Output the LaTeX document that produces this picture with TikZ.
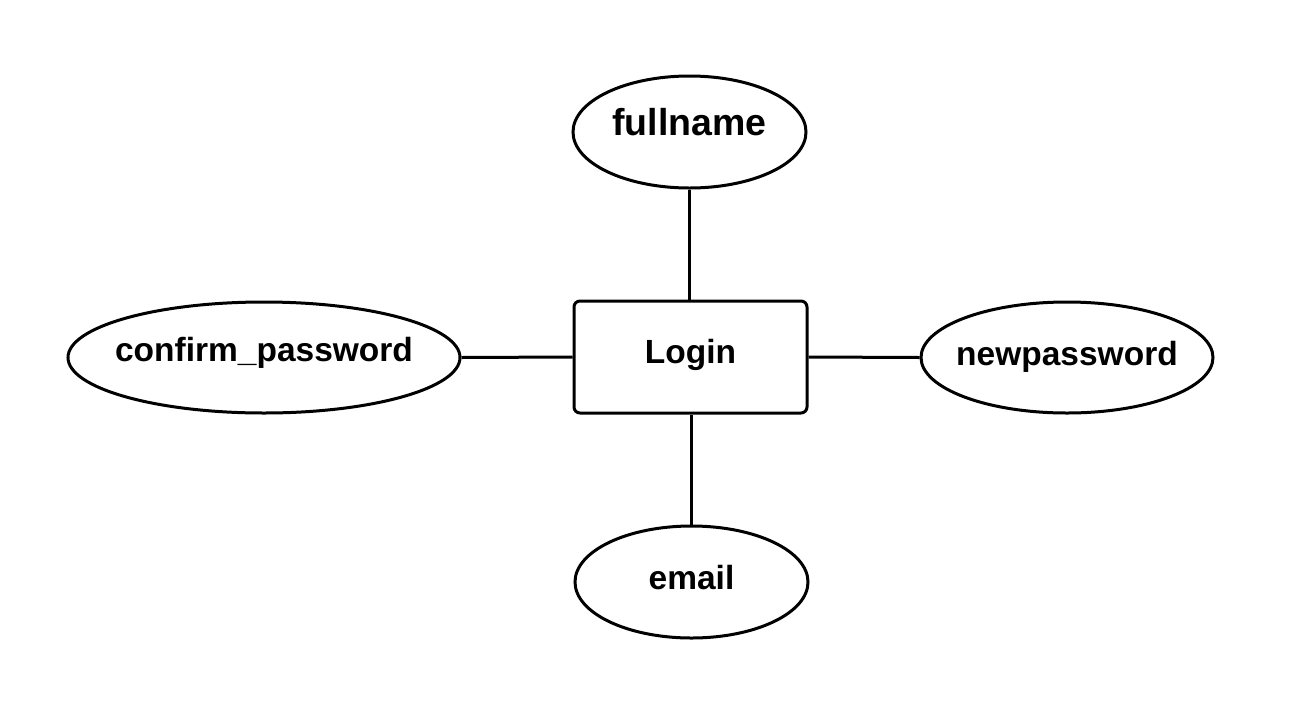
\documentclass[tikz,border=0pt]{standalone}
\usepackage{fontspec}
\setmainfont{Liberation Sans}
\usetikzlibrary{shapes.geometric}
\newcommand{\lbl}[2]{\smash{\makebox[0pt]{\raisebox{#1}{#2}}}}
\begin{document}
\begin{tikzpicture}[x=1pt,y=-1pt,
  attr/.style={draw=black,line width=3pt,ellipse,inner sep=0pt,font=\bfseries\fontsize{33.5}{40}\selectfont},
  ent/.style={draw=black,line width=3pt,rounded corners=6pt,minimum width=233pt,minimum height=112pt,inner sep=0pt,font=\bfseries\fontsize{33.5}{40}\selectfont},
  conn/.style={line width=3pt}]
\useasboundingbox (0,0) rectangle (1294,705);
\node[ent] (login) at (690.5,357) {\lbl{-6.7pt}{Login}};
\node[attr,minimum width=233pt,minimum height=112pt,font=\bfseries\fontsize{37.5}{44}\selectfont] (fullname) at (689.5,132) {\lbl{-3pt}{fullname}};
\node[attr,minimum width=392pt,minimum height=111pt] (confirm) at (264,357.5) {\lbl{-3.5pt}{confirm\_password}};
\node[attr,minimum width=292pt,minimum height=111pt] (newpw) at (1067,357.5) {\lbl{-8pt}{newpassword}};
\node[attr,minimum width=233pt,minimum height=112pt] (email) at (691.5,582) {\lbl{-7.7pt}{email}};
\draw[conn] (fullname.south) -- (login.north -| fullname.south);
\draw[conn] (confirm.east) -- (login.west);
\draw[conn] (login.east) -- (newpw.west);
\draw[conn] (login.south -| email.north) -- (email.north);
\end{tikzpicture}
\end{document}
